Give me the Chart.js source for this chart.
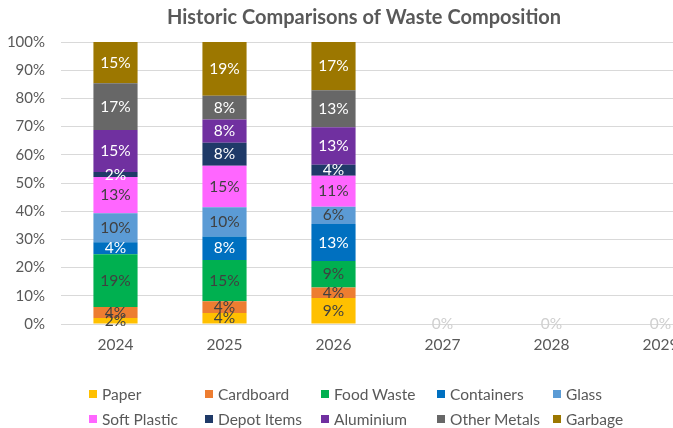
<!DOCTYPE html>
<html>
<head>
<meta charset="utf-8">
<script src="https://cdn.jsdelivr.net/npm/chart.js@4"></script>
<style>
html,body{margin:0;padding:0;overflow:hidden;background:#fff;}
#wrap{position:relative;width:728px;height:428px;}
#legend{position:absolute;left:85px;top:385px;display:grid;grid-template-columns:repeat(5,116px);row-gap:7px;font-family:Lato,"Liberation Sans",sans-serif;font-size:15.5px;color:#595959;}
#legend .it{display:flex;align-items:center;height:18px;white-space:nowrap;}
#legend .mk{display:inline-block;width:8px;height:8px;margin-right:5px;margin-left:4px;}
</style>
</head>
<body>
<div id="wrap"><canvas id="c"></canvas><div id="legend"></div></div>
<script>
const years = ['2024','2025','2026','2027','2028','2029'];
const seriesNames = ['Paper','Cardboard','Food Waste','Containers','Glass','Soft Plastic','Depot Items','Aluminium','Other Metals','Garbage'];
const paper       = [2.1, 3.9, 9.2, 0, 0, 0];
const cardboard   = [3.9, 4.2, 3.7, 0, 0, 0];
const foodWaste   = [18.7, 14.6, 9.4, 0, 0, 0];
const containers  = [4.3, 8.3, 13.2, 0, 0, 0];
const glass       = [10.3, 10.4, 6.1, 0, 0, 0];
const softPlastic = [12.8, 14.7, 11.0, 0, 0, 0];
const depotItems  = [1.8, 8.2, 3.9, 0, 0, 0];
const aluminium   = [14.9, 8.2, 13.3, 0, 0, 0];
const otherMetals = [16.6, 8.4, 13.1, 0, 0, 0];
const garbage     = [14.6, 19.1, 17.1, 0, 0, 0];
const yTicks = [0,10,20,30,40,50,60,70,80,90,100];

const seriesValues = [paper,cardboard,foodWaste,containers,glass,softPlastic,depotItems,aluminium,otherMetals,garbage];
const colors = ['#FFC000','#ED7D31','#00B050','#0070C0','#5B9BD5','#FF66FF','#1F3A68','#7030A0','#676767','#9C7700'];
const labelColors = ['#404040','#404040','#404040','#ffffff','#404040','#404040','#ffffff','#ffffff','#ffffff','#ffffff'];
const FONT = 'Lato, "Liberation Sans", sans-serif';

const labelPlugin = {
  id:'barLabels',
  afterLayout(chart){
    if (chart.titleBlock) { chart.titleBlock.left = 13; chart.titleBlock.right = 715; }
  },
  afterDatasetsDraw(chart){
    const ctx = chart.ctx;
    ctx.save();
    ctx.font = '15.5px ' + FONT;
    ctx.textAlign = 'center';
    ctx.textBaseline = 'middle';
    chart.data.datasets.forEach((ds,i)=>{
      const meta = chart.getDatasetMeta(i);
      meta.data.forEach((bar,j)=>{
        const v = ds.data[j];
        if (v > 0) {
          ctx.fillStyle = labelColors[i];
          ctx.fillText(Math.round(v)+'%', bar.x, (bar.y+bar.base)/2);
        } else if (i === 0) {
          ctx.fillStyle = '#cfcfcf';
          ctx.fillText('0%', bar.x, bar.base);
        }
      });
    });
    ctx.restore();
  }
};

const chart = new Chart(document.getElementById('c'), {
  type:'bar',
  data:{
    labels: years,
    datasets: seriesNames.map((n,i)=>({
      label:n, data:seriesValues[i], backgroundColor:colors[i], borderWidth:0,
      categoryPercentage:1, barPercentage:0.405
    }))
  },
  options:{
    responsive:true, maintainAspectRatio:false, animation:false,
    layout:{padding:{left:0,right:13,top:0,bottom:0}},
    plugins:{
      legend:{display:false},
      tooltip:{enabled:false},
      title:{display:true,text:'Historic Comparisons of Waste Composition',color:'#595959',
        font:{family:FONT,size:20,weight:'bold',lineHeight:1.2},padding:{top:6,bottom:12}}
    },
    scales:{
      x:{stacked:true,grid:{display:false,drawTicks:false},border:{display:false},
        ticks:{color:'#595959',font:{family:FONT,size:15.5},padding:12},
        afterFit(s){s.height=104;}},
      y:{stacked:true,min:0,max:100,
        afterBuildTicks(s){s.ticks=yTicks.map(v=>({value:v}));},
        grid:{color:'#d9d9d9',drawTicks:false},border:{display:false},
        ticks:{color:'#595959',font:{family:FONT,size:15},padding:16,callback:v=>v+'%'},
        afterFit(s){s.width=61;}}
    }
  },
  plugins:[labelPlugin]
});

const lg = document.getElementById('legend');
seriesNames.forEach((n,i)=>{
  const d = document.createElement('div'); d.className='it';
  d.innerHTML = '<span class="mk" style="background:'+colors[i]+'"></span><span>'+n+'</span>';
  lg.appendChild(d);
});
</script>
</body>
</html>
